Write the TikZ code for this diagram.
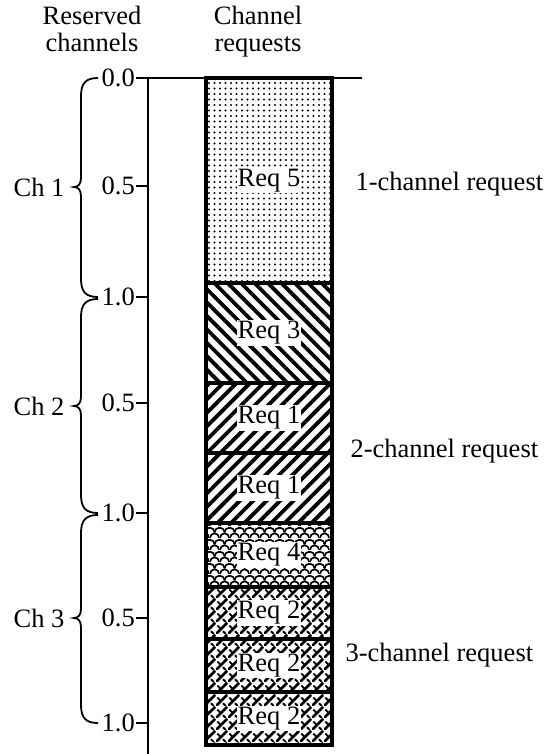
\documentclass[tikz,border=0pt]{standalone}
\usepackage{fontspec}
\setmainfont{Liberation Serif}
\usetikzlibrary{patterns.meta}
\usetikzlibrary{positioning}
\newcommand*{\axisX}{148}
\newcommand*{\boxC}{269}

\tikzdeclarepattern{name=scales,bottom left={(0pt,0pt)},top right={(10pt,12pt)},
  tile size={(10pt,12pt)},
  code={\draw[line width=1.8pt] (0pt,0pt) arc[start angle=180,end angle=0,radius=5pt];
        \draw[line width=1.8pt] (-5pt,6pt) arc[start angle=180,end angle=0,radius=5pt];
        \draw[line width=1.8pt] (5pt,6pt) arc[start angle=180,end angle=0,radius=5pt];}}
\tikzdeclarepattern{name=bricks,bottom left={(0pt,0pt)},top right={(12pt,12pt)},
  tile size={(12pt,12pt)},
  code={\draw[line width=2.9pt] (0pt,0pt) -- (12pt,12pt);
        \draw[line width=2pt] (1.5pt,9pt) -- (4.5pt,6pt);
        \draw[line width=2pt] (7.5pt,3pt) -- (10.5pt,0pt);}}

\begin{document}
\begin{tikzpicture}[x=1pt,y=-1pt,font=\fontsize{26.5}{27}\selectfont,
  blk/.style={draw=black,line width=3.6pt,minimum width=126pt,inner sep=0pt,outer sep=0pt},
  reqlbl/.style={fill=white,inner sep=1pt},
  tlbl/.style={anchor=east,inner sep=1pt},
  axline/.style={line width=1.8pt},
  pdots/.style={pattern={Dots[distance=5.5pt,radius=1.2pt]}},
  pback/.style={pattern={Lines[angle=-45,distance=9.5pt,line width=3.8pt]}},
  pfwd/.style={pattern={Lines[angle=45,distance=9.5pt,line width=3.8pt]}},
  pscale/.style={pattern=scales},
  pbrick/.style={pattern=bricks}]
	\useasboundingbox (0,0) rectangle (544,754);
	\node[align=center,anchor=north] (hres) at (92,3) {Reserved\\channels};
	\node[align=center,anchor=north] (hreq) at (258,3) {Channel\\requests};
	% axis
	\coordinate (axtop) at (\axisX,78);
	\coordinate (axbot) at (\axisX,754);
	\coordinate (topend) at (362,78);
	\draw[axline] (axtop) -- (axbot);
	\foreach \y/\v [count=\k] in {78/0.0,186/0.5,297/1.0,403/0.5,513/1.0,618/0.5,723/1.0}{
	    \node[tlbl] (tk\k) at (136,\y) {\v};
	    \draw[axline] (tk\k.east) -- (tk\k.east -| axtop);
	}
	\draw[axline] (tk1.east) -- (topend);
	% braces
	\foreach \t/\b/\m [count=\i] in {78/297/187,299/513/406,515/723/618}{
	    \draw[line width=1.8pt] (98,\t) .. controls (86,\t) and (81,{\t+5}) .. (81,{\t+18})
	        -- (81,{\m-9}) .. controls (81,{\m-3}) and (78,\m) .. (74,\m)
	        .. controls (78,\m) and (81,{\m+3}) .. (81,{\m+9})
	        -- (81,{\b-18}) .. controls (81,{\b-5}) and (86,\b) .. (98,\b);
	    \node (ch\i) at (39,\m) {Ch \i};
	}
	% request blocks
	\foreach \t/\b/\s/\n [count=\i] in {78/283/pdots/5,283/383/pback/3,383/453/pfwd/1,453/523/pfwd/1,
	    523/587/pscale/4,587/639/pbrick/2,639/692/pbrick/2,692/745/pbrick/2}{
	    \node[blk,\s,minimum height={(\b-\t)*1pt}] (blk\i) at (\boxC,{(\t+\b)/2}) {};
	    \node[reqlbl] (req\i) at (blk\i) {Req \n};
	}
	\node[anchor=west] (lab1) at (352,184) {1-channel request};
	\node[anchor=west] (lab2) at (347,451) {2-channel request};
	\node[anchor=west] (lab3) at (342,655) {3-channel request};
\end{tikzpicture}
\end{document}
